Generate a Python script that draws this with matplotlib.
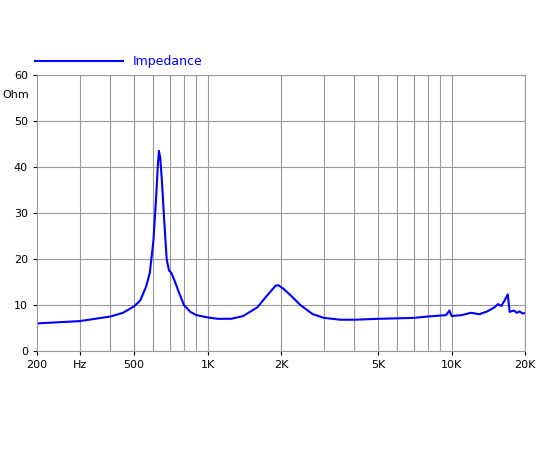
import matplotlib
matplotlib.use('Agg')
import matplotlib.pyplot as plt
from matplotlib.ticker import FixedLocator, NullLocator

freq = [200, 300, 400, 450, 500, 530, 560, 580, 600, 615, 625, 632, 640, 650, 665, 680,
        695, 710, 730, 760, 800, 850, 900, 1000, 1100, 1250, 1400, 1600, 1750, 1900,
        1950, 2050, 2200, 2400, 2700, 3000, 3500, 4000, 5000, 6000, 7000, 8000, 9000,
        9500, 9800, 10000, 11000, 12000, 13000, 14000, 15000, 15500, 16000, 16500,
        17000, 17300, 18000, 18500, 19000, 19500, 20000]
impedance = [6.0, 6.5, 7.5, 8.3, 9.7, 11, 14, 17, 24, 33, 40, 43.5, 42, 37, 28, 20,
             17.5, 17, 15.5, 13, 10, 8.5, 7.8, 7.3, 7.0, 7.0, 7.6, 9.5, 12, 14.2,
             14.3, 13.5, 12, 10, 8, 7.2, 6.8, 6.8, 7.0, 7.1, 7.2, 7.5, 7.7,
             7.8, 8.8, 7.6, 7.8, 8.3, 8.0, 8.6, 9.5, 10.2, 9.8, 11.0,
             12.3, 8.5, 8.8, 8.3, 8.6, 8.2, 8.2]

grid_x = [300, 400, 500, 600, 700, 800, 900, 1000, 2000, 3000, 4000, 5000, 6000,
          7000, 8000, 9000, 10000, 20000]
tick_x = [200, 300, 500, 1000, 2000, 5000, 10000, 20000]
tick_labels = ['200', 'Hz', '500', '1K', '2K', '5K', '10K', '20K']

fig = plt.figure(figsize=(5.5, 4.5), dpi=100)
ax = fig.add_axes([37/550, 1-351/450, 488/550, 276/450])
ax.plot(freq, impedance, color='#0000ff', lw=1.5, label='Impedance')
ax.set_xscale('log')
ax.set_xlim(200, 20000)
ax.set_ylim(0, 60)
ax.xaxis.set_minor_locator(NullLocator())
ax.xaxis.set_major_locator(FixedLocator(tick_x))
ax.set_xticklabels(tick_labels, fontsize=8)
ax.set_yticks(range(0, 61, 10))
ax.tick_params(labelsize=8, length=3)
for g in grid_x:
    ax.axvline(g, color='#999999', lw=0.8, zorder=0)
ax.yaxis.grid(True, color='#999999', lw=0.8, zorder=0)
for s in ax.spines.values():
    s.set_color('#999999')
ax.text(-0.07, 0.915, 'Ohm', transform=ax.transAxes, fontsize=8)
fig.legend(loc='upper left', bbox_to_anchor=(30/550, 1-50/450), frameon=False,
           fontsize=9, labelcolor='#0000ff', handlelength=7, borderaxespad=0)
fig.savefig('out.png')
